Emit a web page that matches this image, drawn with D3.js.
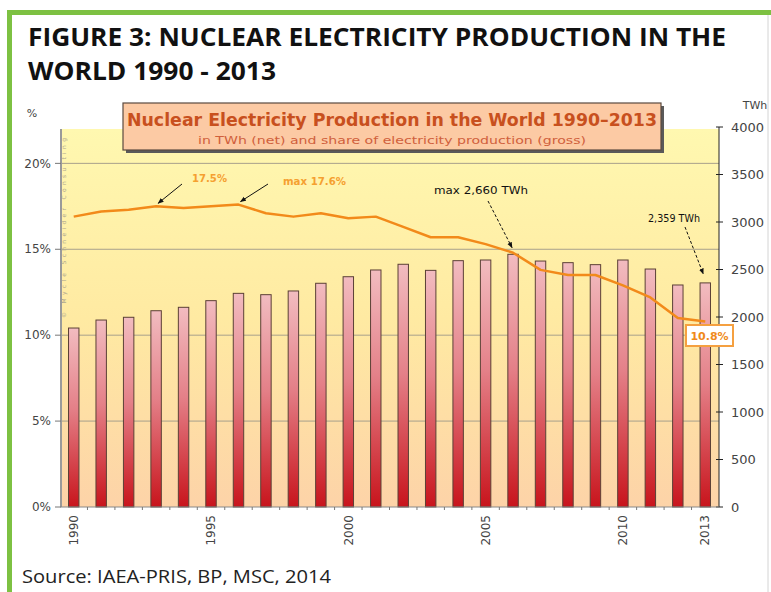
<!DOCTYPE html>
<html>
<head>
<meta charset="utf-8">
<script src="https://cdn.jsdelivr.net/npm/d3@7"></script>
<style>
  body { margin: 0; background: #fff; }
  svg { display: block; }
</style>
</head>
<body>
<svg id="chart" width="771" height="592"></svg>
<script>
const svg = d3.select('#chart');

// data
const years = d3.range(1990, 2014);
const twh = [1884, 1968, 1997, 2066, 2102, 2172, 2249, 2235, 2274, 2355, 2424, 2495,
             2555, 2491, 2593, 2600, 2660, 2589, 2572, 2551, 2600, 2505, 2337, 2359];
const share = [16.9, 17.2, 17.3, 17.5, 17.4, 17.5, 17.6, 17.1, 16.9, 17.1, 16.8, 16.9,
               16.3, 15.7, 15.7, 15.3, 14.8, 13.8, 13.5, 13.5, 12.9, 12.2, 11.0, 10.8];
const pctTicks = [0, 5, 10, 15, 20];
const twhTicks = [0, 500, 1000, 1500, 2000, 2500, 3000, 3500, 4000];
const yearLabels = [1990, 1995, 2000, 2005, 2010, 2013];

const pLeft = 60, pRight = 719, pTop = 129, pBottom = 507;

const x = d3.scaleBand().domain(years).range([pLeft, pRight])
    .paddingInner(0.62).paddingOuter(0.31);
const cx = d => x(d) + x.bandwidth() / 2;
const yP = d3.scaleLinear().domain([0, 22]).range([pBottom, pTop]);
const yT = d3.scaleLinear().domain([0, 4000]).range([pBottom, 127]);

const defs = svg.append('defs');
const bg = defs.append('linearGradient').attr('id', 'bg')
    .attr('x1', 0).attr('y1', 0).attr('x2', 0).attr('y2', 1);
bg.append('stop').attr('offset', '0%').attr('stop-color', '#fff8b0');
bg.append('stop').attr('offset', '50%').attr('stop-color', '#ffeaa2');
bg.append('stop').attr('offset', '100%').attr('stop-color', '#fdd3a8');

const barGrad = defs.append('linearGradient').attr('id', 'bar')
    .attr('x1', 0).attr('y1', 0).attr('x2', 0).attr('y2', 1);
barGrad.append('stop').attr('offset', '0%').attr('stop-color', '#f2bcc0');
barGrad.append('stop').attr('offset', '45%').attr('stop-color', '#e48088');
barGrad.append('stop').attr('offset', '100%').attr('stop-color', '#c8141c');

const mk = defs.append('marker').attr('id', 'arr')
    .attr('viewBox', '0 0 10 10').attr('refX', 9).attr('refY', 5)
    .attr('markerWidth', 6).attr('markerHeight', 6).attr('orient', 'auto');
mk.append('path').attr('d', 'M0,1 L10,5 L0,9 Z').attr('fill', '#111');

// frame
svg.append('rect').attr('x', 7).attr('y', 10).attr('width', 764).attr('height', 5).attr('fill', '#7dc142');
svg.append('rect').attr('x', 7).attr('y', 10).attr('width', 5).attr('height', 582).attr('fill', '#7dc142');
svg.append('line').attr('x1', 768).attr('x2', 768).attr('y1', 15).attr('y2', 592)
    .attr('stroke', '#d4d4d4').attr('stroke-width', 1);

// heading
svg.append('text').attr('x', 28).attr('y', 46)
    .attr('font-family', 'Open Sans').attr('font-weight', 700).attr('font-size', 25)
    .attr('textLength', 698).attr('lengthAdjust', 'spacingAndGlyphs').attr('fill', '#111')
    .text('FIGURE 3: NUCLEAR ELECTRICITY PRODUCTION IN THE');
svg.append('text').attr('x', 28).attr('y', 80)
    .attr('font-family', 'Open Sans').attr('font-weight', 700).attr('font-size', 25)
    .attr('textLength', 248).attr('lengthAdjust', 'spacingAndGlyphs').attr('fill', '#111')
    .text('WORLD 1990 - 2013');

// plot background
svg.append('rect').attr('x', pLeft).attr('y', pTop).attr('width', pRight - pLeft)
    .attr('height', pBottom - pTop).attr('fill', 'url(#bg)');

// grid
svg.selectAll('.grid').data(pctTicks.filter(d => d > 0)).enter().append('line')
    .attr('class', 'grid')
    .attr('x1', pLeft).attr('x2', pRight)
    .attr('y1', d => yP(d)).attr('y2', d => yP(d))
    .attr('stroke', '#a8a08c').attr('stroke-width', 1);

// watermark
svg.append('text').attr('transform', `translate(66,${yP(11)}) rotate(-90)`)
    .attr('font-family', 'DejaVu Sans').attr('font-size', 6).attr('fill', '#b0a88e')
    .attr('textLength', 180).attr('lengthAdjust', 'spacing')
    .text('© Mycle Schneider Consulting');

// bars
svg.selectAll('.bar').data(years).enter().append('rect')
    .attr('class', 'bar')
    .attr('x', d => x(d))
    .attr('width', x.bandwidth())
    .attr('y', (d, i) => yT(twh[i]))
    .attr('height', (d, i) => pBottom - yT(twh[i]))
    .attr('fill', 'url(#bar)')
    .attr('stroke', '#5b4036').attr('stroke-width', 1);

// share line
const line = d3.line().x((d, i) => cx(years[i])).y(d => yP(d));
svg.append('path').attr('d', line(share))
    .attr('fill', 'none').attr('stroke', '#f28a1a').attr('stroke-width', 2.5)
    .attr('stroke-linejoin', 'round');

// left axis
svg.append('line').attr('x1', 61).attr('x2', 61).attr('y1', pTop).attr('y2', pBottom)
    .attr('stroke', '#9a9a9a').attr('stroke-width', 2);
svg.selectAll('.ltick').data(pctTicks).enter().append('line')
    .attr('x1', 55).attr('x2', 61).attr('y1', d => yP(d)).attr('y2', d => yP(d))
    .attr('stroke', '#777');
svg.selectAll('.llab').data(pctTicks).enter().append('text')
    .attr('x', 51).attr('y', d => yP(d)).attr('dy', '0.35em')
    .attr('text-anchor', 'end').attr('font-family', 'DejaVu Sans').attr('font-size', 12)
    .attr('fill', '#444').text(d => d + '%');
svg.append('text').attr('x', 32).attr('y', 117).attr('text-anchor', 'middle')
    .attr('font-family', 'DejaVu Sans').attr('font-size', 11).attr('fill', '#444').text('%');

// right axis
svg.append('line').attr('x1', pRight).attr('x2', pRight).attr('y1', yT(4000)).attr('y2', pBottom)
    .attr('stroke', '#222').attr('stroke-width', 1);
svg.selectAll('.rtick').data(twhTicks).enter().append('line')
    .attr('x1', pRight - 3).attr('x2', pRight + 4).attr('y1', d => yT(d)).attr('y2', d => yT(d))
    .attr('stroke', '#222');
svg.selectAll('.rlab').data(twhTicks).enter().append('text')
    .attr('x', 731).attr('y', d => yT(d)).attr('dy', '0.35em')
    .attr('font-family', 'DejaVu Sans').attr('font-size', 13).attr('fill', '#444')
    .text(d => d);
svg.append('text').attr('x', 755).attr('y', 109).attr('text-anchor', 'middle')
    .attr('font-family', 'DejaVu Sans').attr('font-size', 11).attr('fill', '#444').text('TWh');

// bottom axis
svg.append('line').attr('x1', pLeft).attr('x2', pRight).attr('y1', pBottom).attr('y2', pBottom)
    .attr('stroke', '#888');
svg.selectAll('.btick').data(years.slice(1)).enter().append('line')
    .attr('x1', d => x(d) - x.step() * 0.31).attr('x2', d => x(d) - x.step() * 0.31)
    .attr('y1', pBottom).attr('y2', pBottom + 3).attr('stroke', '#777');
svg.selectAll('.blab').data(yearLabels).enter().append('text')
    .attr('transform', d => `translate(${cx(d)},515) rotate(-90)`)
    .attr('text-anchor', 'end').attr('dy', '0.35em')
    .attr('font-family', 'DejaVu Sans').attr('font-size', 12).attr('fill', '#444')
    .text(d => d);

// chart title box
svg.append('rect').attr('x', 126).attr('y', 106).attr('width', 538).attr('height', 47).attr('fill', '#5a5a5a');
svg.append('rect').attr('x', 123).attr('y', 103).attr('width', 538).attr('height', 47)
    .attr('fill', '#fccaa4').attr('stroke', '#5a4a40').attr('stroke-width', 1.2);
svg.append('text').attr('x', 127).attr('y', 126)
    .attr('font-family', 'DejaVu Sans').attr('font-weight', 700).attr('font-size', 17)
    .attr('textLength', 530).attr('lengthAdjust', 'spacingAndGlyphs').attr('fill', '#c8501e')
    .text('Nuclear Electricity Production in the World 1990–2013');
svg.append('text').attr('x', 198).attr('y', 144)
    .attr('font-family', 'DejaVu Sans').attr('font-size', 11)
    .attr('textLength', 388).attr('lengthAdjust', 'spacingAndGlyphs').attr('fill', '#d0603c')
    .text('in TWh (net) and share of electricity production (gross)');

// annotations
function arrow(x1, y1, x2, y2, dashed) {
    svg.append('line').attr('x1', x1).attr('y1', y1).attr('x2', x2).attr('y2', y2)
        .attr('stroke', '#111').attr('stroke-width', 1)
        .attr('stroke-dasharray', dashed ? '3,2' : null)
        .attr('marker-end', 'url(#arr)');
}
function note(tx, ty, str, color, bold, len) {
    svg.append('text').attr('x', tx).attr('y', ty)
        .attr('font-family', 'DejaVu Sans').attr('font-size', 10.5)
        .attr('font-weight', bold ? 700 : 400).attr('fill', color)
        .attr('textLength', len).attr('lengthAdjust', 'spacingAndGlyphs')
        .text(str);
}
note(192, 182, '17.5%', '#f5a030', true, 35);
arrow(182, 184, cx(1993) + 2, yP(17.5) - 3, false);
note(283, 185, 'max 17.6%', '#f5a030', true, 63);
arrow(268, 184, cx(1996) + 2, yP(17.6) - 3, false);
note(434, 194, 'max 2,660 TWh', '#111', false, 94);
arrow(488, 201, cx(2006) - 1, yP(share[16]) - 5, true);
note(648, 222, '2,359 TWh', '#111', false, 52);
arrow(685, 227, cx(2013) - 2, yT(2359) - 9, true);

svg.append('rect').attr('x', 686).attr('y', 325).attr('width', 47).attr('height', 21)
    .attr('fill', '#fff').attr('stroke', '#f5a040').attr('stroke-width', 2);
svg.append('text').attr('x', 709.5).attr('y', 336).attr('dy', '0.35em').attr('text-anchor', 'middle')
    .attr('font-family', 'DejaVu Sans').attr('font-weight', 700).attr('font-size', 11)
    .attr('fill', '#f08a1a').text('10.8%');

// source
svg.append('text').attr('x', 22).attr('y', 583)
    .attr('font-family', 'Open Sans').attr('font-size', 18)
    .attr('textLength', 309).attr('lengthAdjust', 'spacingAndGlyphs').attr('fill', '#222')
    .text('Source: IAEA-PRIS, BP, MSC, 2014');
</script>
</body>
</html>
